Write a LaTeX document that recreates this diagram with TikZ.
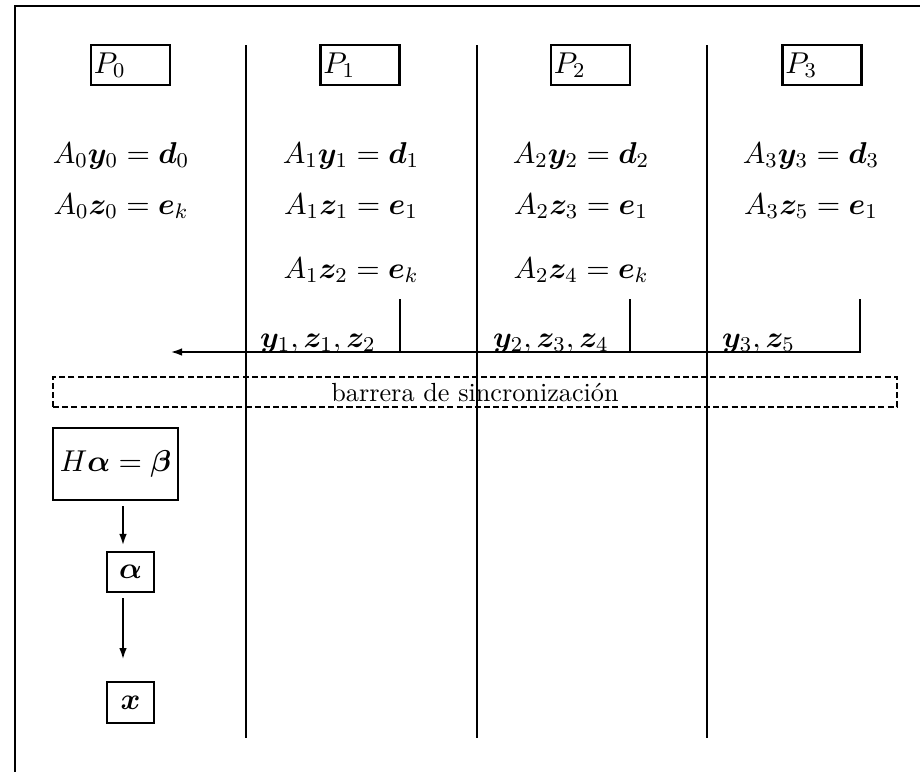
\documentclass[tikz,border=0pt]{standalone}
\usepackage{fix-cm}
\usepackage{amsmath,bm}
\usetikzlibrary{arrows.meta}
\begin{document}
\begin{tikzpicture}[x=0.38168pt,y=-0.38168pt, line width=0.95pt,
  every node/.style={inner sep=0pt, outer sep=0pt},
  mathfont/.style={font=\fontsize{11.5}{14}\selectfont},
  eq/.style={anchor=base, mathfont},
  pbox/.style={draw, text width=28pt, inner xsep=1.1pt, align=left, minimum height=15.27pt, mathfont},
  mbox/.style={draw, mathfont},
  arr/.style={-{Latex[length=4.6pt,width=2.9pt]}},
  lbl/.style={anchor=base west, mathfont},
  barrier/.style={draw, dash pattern=on 2.3pt off 1.2pt, minimum width=322.1pt, minimum height=11.45pt, font=\fontsize{10}{12}\selectfont}
]
\useasboundingbox (0,0) rectangle (920,772);
% outer frame (cut by the page)
\draw (15,772) -- (15,6) -- (920,6);

% processor labels
\node[pbox] (p0) at (130.5,65) {$P_0$};
\node[pbox] (p1) at (360,65) {$P_1$};
\node[pbox] (p2) at (590.5,65) {$P_2$};
\node[pbox] (p3) at (822,65) {$P_3$};

% equations
\node[eq] (e01) at (121,163) {$A_0\bm{y}_0=\bm{d}_0$};
\node[eq] (e02) at (121,214) {$A_0\bm{z}_0=\bm{e}_k$};
\node[eq] (e11) at (351,163) {$A_1\bm{y}_1=\bm{d}_1$};
\node[eq] (e12) at (351,214) {$A_1\bm{z}_1=\bm{e}_1$};
\node[eq] (e13) at (351,278) {$A_1\bm{z}_2=\bm{e}_k$};
\node[eq] (e21) at (581,163) {$A_2\bm{y}_2=\bm{d}_2$};
\node[eq] (e22) at (581,214) {$A_2\bm{z}_3=\bm{e}_1$};
\node[eq] (e23) at (581,278) {$A_2\bm{z}_4=\bm{e}_k$};
\node[eq] (e31) at (811,163) {$A_3\bm{y}_3=\bm{d}_3$};
\node[eq] (e32) at (811,214) {$A_3\bm{z}_5=\bm{e}_1$};

% communication
\coordinate (t1) at (400,299);
\coordinate (t2) at (630,299);
\coordinate (t3) at (860,299);
\coordinate (c1) at (400,352);
\coordinate (c2) at (630,352);
\coordinate (c3) at (860,352);
\coordinate (dest) at (170,352);
\draw (t1) -- (c1);
\draw (t2) -- (c2);
\draw[arr] (t3) -- (c3) -- (dest);
\node[lbl] (l1) at (260,347) {$\bm{y}_1,\bm{z}_1,\bm{z}_2$};
\node[lbl] (l2) at (493,347) {$\bm{y}_2,\bm{z}_3,\bm{z}_4$};
\node[lbl] (l3) at (722,347) {$\bm{y}_3,\bm{z}_5$};

% barrier
\node[barrier] (bar) at (475,392) {barrera de sincronizaci\'on};

% dividers
\draw (246,45) -- (246,738);
\draw (477,45) -- (477,738);
\draw (707,45) -- (707,738);

% final solve on P0
\node[mbox, minimum width=47.7pt, minimum height=27.5pt] (hab) at (115.5,464) {$H\bm{\alpha}=\bm{\beta}$};
\node[mbox, minimum width=17.9pt, minimum height=15.3pt] (alpha) at (130.5,572) {$\bm{\alpha}$};
\node[mbox, minimum width=17.9pt, minimum height=15.6pt] (xsol) at (130.5,702.5) {$\bm{x}$};
\coordinate (ax) at (123,0);
\draw[arr, shorten <=2.3pt, shorten >=2.3pt] (hab.south -| ax) -- (alpha.north -| ax);
\draw[arr, shorten <=2.3pt, shorten >=8.4pt] (alpha.south -| ax) -- (xsol.north -| ax);
\end{tikzpicture}
\end{document}
